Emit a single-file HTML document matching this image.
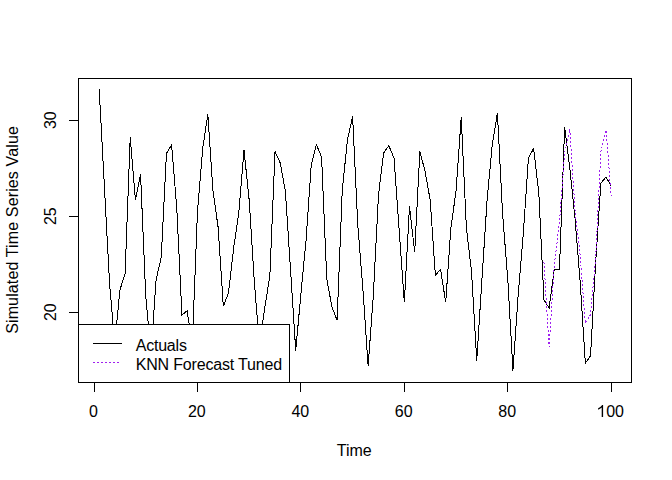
<!DOCTYPE html>
<html><head><meta charset="utf-8"><style>
html,body{margin:0;padding:0;background:#fff;width:672px;height:480px;overflow:hidden}
svg{display:block}
text{font-family:"Liberation Sans",sans-serif;font-size:16px;fill:#000}
</style></head><body>
<svg width="672" height="480" viewBox="0 0 672 480">
<rect x="0" y="0" width="672" height="480" fill="#fff"/>
<polyline points="99.20,89.50 104.37,186.00 109.54,283.00 114.72,344.00 119.89,290.00 125.06,274.00 130.23,137.30 135.40,199.50 140.57,174.50 145.75,296.00 150.92,354.00 156.09,280.00 161.26,257.00 166.43,153.50 171.60,145.00 176.78,208.00 181.95,315.00 187.12,310.75 192.29,345.00 197.46,212.00 202.63,149.00 207.81,114.30 212.98,191.00 218.15,227.50 223.32,306.30 228.49,293.00 233.66,248.00 238.84,212.00 244.01,150.00 249.18,200.00 254.35,282.00 259.52,346.00 264.69,308.00 269.87,276.00 275.04,151.50 280.21,163.00 285.38,191.00 290.55,270.00 295.73,350.50 300.90,294.00 306.07,240.00 311.24,164.70 316.41,144.60 321.58,157.00 326.76,278.70 331.93,307.00 337.10,320.30 342.27,190.00 347.44,140.00 352.61,116.30 357.79,225.00 362.96,290.00 368.13,366.00 373.30,296.00 378.47,195.00 383.64,153.00 388.82,145.70 393.99,158.00 399.16,230.00 404.33,302.30 409.50,206.30 414.67,252.30 419.85,151.30 425.02,171.30 430.19,200.00 435.36,275.20 440.53,269.40 445.71,302.30 450.88,228.00 456.05,191.00 461.22,117.30 466.39,228.00 471.56,272.00 476.74,360.50 481.91,280.00 487.08,200.00 492.25,144.70 497.42,113.00 502.59,214.00 507.77,279.00 512.94,370.50 518.11,296.00 523.28,234.00 528.45,158.00 533.62,148.50 538.80,193.00 543.97,300.00 549.14,308.00 554.31,269.30 559.48,269.30 564.65,127.00 569.83,168.00 575.00,218.00 580.17,282.00 585.34,363.00 590.51,356.00 595.68,262.00 600.86,183.30 606.03,177.00 611.20,186.00" fill="none" stroke="#000" stroke-width="1" shape-rendering="crispEdges"/>
<polyline points="543.97,262.40 549.14,347.00 554.31,265.00 559.48,222.00 564.65,153.00 569.83,129.00 575.00,210.00 580.17,255.00 585.34,323.50 590.51,314.60 595.68,258.00 600.86,152.00 606.03,130.00 611.20,196.00" fill="none" stroke="#A020F0" stroke-width="1" stroke-dasharray="2 2" shape-rendering="crispEdges"/>
<g stroke="#000" stroke-width="1" shape-rendering="crispEdges" fill="none">
<rect x="78.5" y="78.5" width="553" height="304"/>
<line x1="94.5" y1="382" x2="94.5" y2="392"/><line x1="197.5" y1="382" x2="197.5" y2="392"/><line x1="300.5" y1="382" x2="300.5" y2="392"/><line x1="404.5" y1="382" x2="404.5" y2="392"/><line x1="507.5" y1="382" x2="507.5" y2="392"/><line x1="611.5" y1="382" x2="611.5" y2="392"/>
<line x1="69" y1="120.5" x2="78" y2="120.5"/><line x1="69" y1="216.5" x2="78" y2="216.5"/><line x1="69" y1="312.5" x2="78" y2="312.5"/>
</g>
<text x="93.43" y="417" text-anchor="middle">0</text><text x="196.86" y="417" text-anchor="middle">20</text><text x="300.30" y="417" text-anchor="middle">40</text><text x="403.73" y="417" text-anchor="middle">60</text><text x="507.17" y="417" text-anchor="middle">80</text><text x="606.14" y="417">00</text><path d="M603.1,404.9 L603.1,416.9 L601.7,416.9 L601.7,407.4 Q600.2,408.9 598.1,409.8 L598.1,408.3 Q600.5,407.0 602.2,404.9 Z" fill="#000"/>
<text transform="translate(55.6,120.2) rotate(-90)" text-anchor="middle">30</text><text transform="translate(55.6,216.2) rotate(-90)" text-anchor="middle">25</text><text transform="translate(55.6,312.2) rotate(-90)" text-anchor="middle">20</text>
<text x="354.2" y="455.7" text-anchor="middle">Time</text>
<text transform="translate(18,230) rotate(-90)" text-anchor="middle" textLength="207.7" lengthAdjust="spacing">Simulated Time Series Value</text>
<rect x="78.5" y="324.5" width="211" height="58" fill="#fff" stroke="#000" stroke-width="1" shape-rendering="crispEdges"/>
<line x1="93" y1="343.5" x2="122" y2="343.5" stroke="#000" stroke-width="1" shape-rendering="crispEdges"/>
<line x1="93" y1="362.5" x2="120" y2="362.5" stroke="#A020F0" stroke-width="1" stroke-dasharray="2 2" shape-rendering="crispEdges"/>
<text x="135.7" y="351" textLength="51.2" lengthAdjust="spacing">Actuals</text>
<text x="135.7" y="370" textLength="146.5" lengthAdjust="spacing">KNN Forecast Tuned</text>
</svg>
</body></html>
